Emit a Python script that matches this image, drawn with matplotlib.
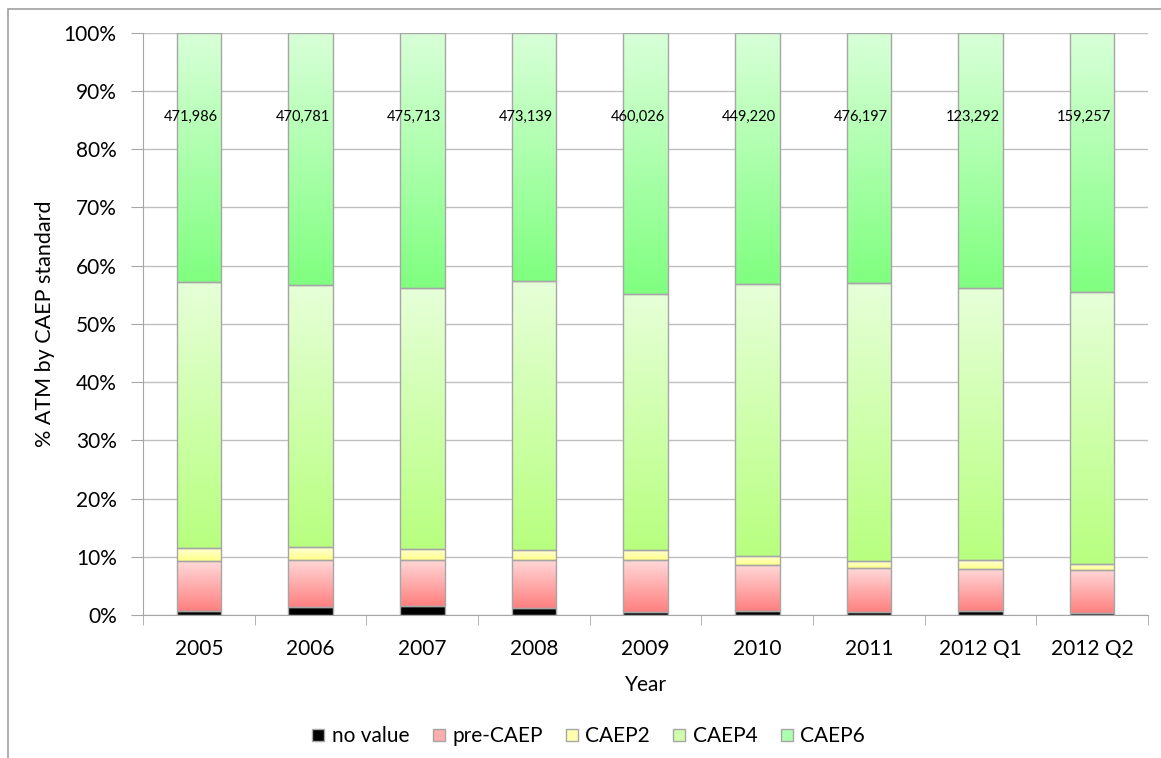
import numpy as np
import matplotlib
matplotlib.use('Agg')
import matplotlib.pyplot as plt
from matplotlib.colors import LinearSegmentedColormap
from matplotlib.patches import Rectangle

plt.rcParams['font.family'] = ['Lato', 'DejaVu Sans']

years = ["2005", "2006", "2007", "2008", "2009", "2010", "2011", "2012 Q1", "2012 Q2"]
# share of ATM per standard, in percent
no_value = [0.75, 1.3, 1.5, 1.15, 0.5, 0.7, 0.45, 0.6, 0.3]
pre_caep = [8.45, 8.1, 7.9, 8.25, 8.9, 7.9, 7.55, 7.3, 7.4]
caep2 = [2.3, 2.2, 1.9, 1.7, 1.8, 1.6, 1.2, 1.5, 1.0]
caep4 = [45.7, 45.1, 44.8, 46.3, 44.0, 46.6, 47.8, 46.8, 46.7]
caep6 = [42.8, 43.3, 43.9, 42.6, 44.8, 43.2, 43.0, 43.8, 44.6]
totals = [471986, 470781, 475713, 473139, 460026, 449220, 476197, 123292, 159257]

series = [
    ("no value", no_value, "#000000", "#000000"),
    ("pre-CAEP", pre_caep, "#ffd8d8", "#ff8080"),
    ("CAEP2", caep2, "#ffffd8", "#ffff88"),
    ("CAEP4", caep4, "#e6ffd8", "#b8ff80"),
    ("CAEP6", caep6, "#d8ffd8", "#80ff80"),
]
edge = "#a6a6a6"

fig = plt.figure(figsize=(11.61, 7.58), dpi=100)
ax = fig.add_axes([0.1232, 0.1887, 0.8656, 0.7682])

# outer chart frame (only left and top edges are visible in the original)
fig.patches.append(Rectangle((8/1161, -0.1), 1.2, 1 - 9/758 + 0.1, transform=fig.transFigure,
                             fill=False, edgecolor="#a0a0a0", linewidth=1.2))

x = np.arange(len(years))
bottom = np.zeros(len(years))
grad = np.linspace(0, 1, 64).reshape(-1, 1)
handles = []
for name, vals, top_col, bot_col in series:
    bars = ax.bar(x, vals, 0.4, bottom=bottom, facecolor="none", edgecolor=edge,
                  linewidth=1, zorder=3)
    cmap = LinearSegmentedColormap.from_list(name, [bot_col, top_col])
    # vertical gradient inside every segment, like the spreadsheet fill
    for p in bars:
        x0, y0 = p.get_x(), p.get_y()
        ax.imshow(grad, cmap=cmap, origin='lower', aspect='auto', zorder=2,
                  extent=[x0, x0 + p.get_width(), y0, y0 + p.get_height()])
    bottom += np.array(vals)
    mid = cmap(0.5)
    handles.append(plt.Line2D([], [], marker='s', linestyle='none', markersize=9,
                              markerfacecolor=mid, markeredgecolor=edge, label=name))

for i, t in enumerate(totals):
    ax.text(i - 0.07, 85.6, "{:,}".format(t), ha='center', va='center', fontsize=10.5,
            zorder=5)

ax.set_xlim(-0.5, len(years) - 0.5)
ax.set_ylim(0, 100)
ax.set_yticks(np.arange(0, 101, 10))
ax.set_yticklabels(["%d%%" % v for v in range(0, 101, 10)], fontsize=15)
ax.set_xticks(x)
ax.set_xticklabels(years, fontsize=15)
ax.set_xticks(np.arange(-0.5, len(years), 1), minor=True)
ax.tick_params(axis='x', which='major', length=0, pad=17)
ax.tick_params(axis='x', which='minor', length=7, color=edge)
ax.tick_params(axis='y', length=9, color=edge, pad=10)

ax.grid(axis='y', color="#bfbfbf", linewidth=1, zorder=0)
ax.set_axisbelow(True)
for s in ['top', 'right']:
    ax.spines[s].set_visible(False)
for s in ['left', 'bottom']:
    ax.spines[s].set_color(edge)

ax.set_ylabel("% ATM by CAEP standard", fontsize=15.5, labelpad=6)
ax.set_xlabel("Year", fontsize=15, labelpad=12)

fig.legend(handles=handles, loc='center', bbox_to_anchor=(0.507, 0.029), ncol=5,
           frameon=False, fontsize=15, handlelength=0.6, handletextpad=0.35,
           columnspacing=1.1)

fig.savefig("out.png", dpi=100)
